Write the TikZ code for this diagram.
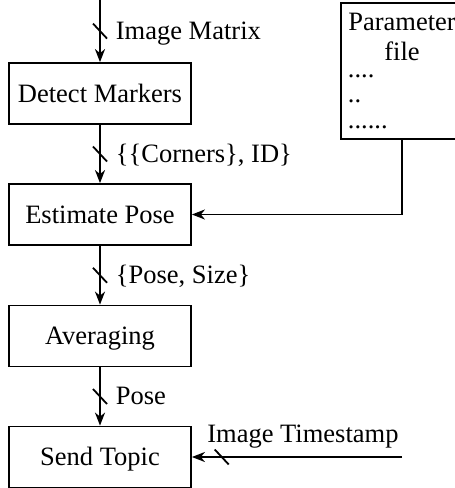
\documentclass[tikz,border=0pt]{standalone}
\usepackage{fontspec}
\setmainfont{Liberation Serif}
\usetikzlibrary{arrows.meta}
\begin{document}
\begin{tikzpicture}[x=1pt,y=-1pt, line width=1.8pt,
  font=\fontsize{26.5}{30}\selectfont,
  stage/.style={draw, minimum width=182pt, minimum height=61pt,
    inner sep=0pt, text height=17.5pt, text depth=0pt},
  flow/.style={-{Stealth[length=13pt,width=10pt,inset=4pt]}},
  busmark/.pic={\draw[-] (-7,-7.5) -- (7,7.5);},
  sig/.style={anchor=base west, inner sep=0pt, xshift=15pt, yshift=-8pt},
  txt/.style={inner sep=0pt, anchor=base}]
\clip (0,0) rectangle (455,488);

% processing chain
\node[stage] (dm) at (100,93.5) {Detect Markers};
\node[stage] (ep) at (100,214.5) {Estimate Pose};
\node[stage] (av) at (100,336) {Averaging};
\node[stage] (st) at (100,457) {Send Topic};

% parameter file
\node[draw, minimum width=122pt, minimum height=136pt, inner sep=0pt]
  (pf) at (402,71) {};
\node[txt] (pf1) at (402,30) {Parameter};
\node[txt] (pf2) at (402,60) {file};
\node[txt, anchor=base west] (pf3) at (347,77) {....};
\node[txt, anchor=base west] (pf4) at (347,102) {..};
\node[txt, anchor=base west] (pf5) at (347,128) {......};

% external inputs
\coordinate (img) at (100,0);
\coordinate (ts) at (402,457);

% connectors
\draw[flow] (img) -- (dm.north) pic[pos=.5]{busmark} node[pos=.5, sig] {Image Matrix};
\draw[flow] (dm.south) -- (ep.north) pic[pos=.5]{busmark} node[pos=.5, sig] {\{\{Corners\}, ID\}};
\draw[flow] (ep.south) -- (av.north) pic[pos=.5]{busmark} node[pos=.5, sig] {\{Pose, Size\}};
\draw[flow] (av.south) -- (st.north) pic[pos=.5]{busmark} node[pos=.5, sig] {Pose};
\draw[flow] (pf.south) |- (ep.east);
\draw[flow] (ts) -- (st.east) pic[pos=.858]{busmark}
  node[pos=.4716, anchor=base, inner sep=0pt, yshift=15pt] {Image Timestamp};
\end{tikzpicture}
\end{document}
